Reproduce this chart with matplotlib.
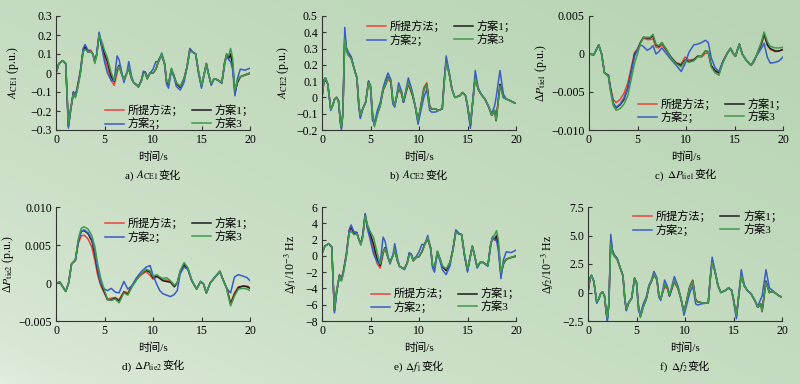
import numpy as np
import matplotlib
matplotlib.use("Agg")
import matplotlib.pyplot as plt
from matplotlib.colors import to_rgb
from matplotlib.offsetbox import TextArea, HPacker, AnchoredOffsetbox

plt.rcParams["font.family"] = ["Liberation Serif", "Noto Sans CJK SC", "DejaVu Sans"]
plt.rcParams["mathtext.fontset"] = "stix"
plt.rcParams["axes.unicode_minus"] = True

# ---- time grids ----
t_a = [0, 0.3, 0.7, 1.0, 1.28, 1.5, 1.8, 2.0, 2.2, 2.5,
       2.8, 3.0, 3.3, 3.6, 3.8, 4.0, 4.2, 4.45, 4.7, 5.0,
       5.3, 5.7, 6.0, 6.3, 6.5, 6.8, 7.0, 7.3, 7.5, 7.8,
       8.0, 8.5, 8.8, 9.0, 9.2, 9.4, 9.7, 10.0, 10.3, 10.6,
       10.9, 11.2, 11.4, 11.6, 11.9, 12.2, 12.4, 12.8, 13.2, 13.5,
       13.8, 14.1, 14.4, 14.7, 15.0, 15.3, 15.5, 15.7, 16.0, 16.3,
       16.6, 17.1, 17.4, 17.6, 17.8, 18.0, 18.2, 18.45, 18.7, 19.0,
       19.5, 20]

t_b = [0, 0.2, 0.35, 0.6, 0.9, 1.1, 1.3, 1.5, 1.7, 1.9,
       2.0, 2.15, 2.35, 2.5, 2.7, 3.0, 3.3, 3.6, 3.8, 3.95,
       4.2, 4.5, 4.8, 5.0, 5.2, 5.4, 5.7, 6.0, 6.3, 6.5,
       6.8, 7.1, 7.3, 7.5, 7.9, 8.2, 8.4, 8.9, 9.3, 9.6,
       9.9, 10.2, 10.5, 10.8, 11.1, 11.3, 11.7, 12.0, 12.4, 12.6,
       12.8, 13.1, 13.4, 13.7, 14.2, 14.5, 14.8, 15.0, 15.3, 15.5,
       15.8, 16.1, 16.4, 16.8, 17.2, 17.5, 17.8, 17.95, 18.35, 18.7,
       19.0, 19.4, 19.7, 20]

t_c = [0, 0.5, 1.0, 1.3, 1.6, 2.0, 2.2, 2.5, 2.8, 3.2,
       3.6, 4.0, 4.4, 4.7, 5.0, 5.3, 5.6, 6.0, 6.3, 6.6,
       6.9, 7.2, 7.5, 8.0, 8.5, 9.0, 9.5, 9.9, 10.3, 10.8,
       11.2, 11.6, 12.0, 12.3, 12.6, 13.0, 13.4, 13.8, 14.3, 14.6,
       14.9, 15.1, 15.5, 15.8, 16.2, 16.7, 17.0, 17.4, 17.8, 18.05,
       18.4, 18.7, 19.2, 19.6, 20]

t_d = [0, 0.4, 0.7, 1.0, 1.3, 1.6, 2.0, 2.3, 2.6, 2.9,
       3.3, 3.7, 4.0, 4.3, 4.6, 5.0, 5.3, 5.7, 6.1, 6.5,
       7.0, 7.4, 7.8, 8.3, 8.8, 9.3, 9.7, 10.0, 10.4, 10.7,
       11.0, 11.4, 11.8, 12.2, 12.5, 12.8, 13.2, 13.6, 14.0, 14.5,
       14.9, 15.2, 15.5, 15.9, 16.4, 16.9, 17.2, 17.6, 18.0, 18.4,
       18.8, 19.3, 19.7, 20]

# ---- a) ACE1 ----
ace1_pm = [0.0, 0.05, 0.065, 0.05, -0.28, -0.19, -0.1, -0.12, -0.07, 0.01,
           0.12, 0.13, 0.12, 0.12, 0.1, 0.06, 0.1, 0.2, 0.14, 0.08,
           0.03, -0.04, -0.065, 0.0, 0.04, -0.01, -0.035, 0.0, 0.025, -0.03,
           -0.05, -0.07, -0.04, 0.0, 0.005, -0.03, 0.0, 0.0, 0.02, 0.065,
           0.09, 0.045, -0.045, -0.06, 0.02, -0.02, -0.055, -0.075, -0.03, 0.03,
           0.125, 0.11, 0.1, 0.0, -0.07, 0.0, 0.045, 0.0, -0.06, -0.03,
           -0.035, -0.05, 0.06, 0.095, 0.075, 0.09, 0.04, -0.1, -0.05, -0.02,
           -0.01, -0.005]
ace1_s1 = [0.0, 0.05, 0.065, 0.05, -0.28, -0.2, -0.1, -0.125, -0.08, 0.0,
           0.12, 0.14, 0.11, 0.11, 0.1, 0.06, 0.1, 0.205, 0.15, 0.1,
           0.06, -0.02, -0.045, 0.02, 0.04, -0.01, -0.035, 0.0, 0.025, -0.03,
           -0.05, -0.07, -0.04, 0.0, 0.005, -0.03, 0.0, 0.0, 0.02, 0.07,
           0.1, 0.05, -0.045, -0.06, 0.02, -0.02, -0.055, -0.075, -0.03, 0.03,
           0.12, 0.11, 0.1, 0.0, -0.07, 0.0, 0.05, 0.0, -0.06, -0.03,
           -0.035, -0.05, 0.06, 0.1, 0.08, 0.1, 0.05, -0.105, -0.05, -0.02,
           -0.01, 0.0]
ace1_s2 = [0.0, 0.05, 0.065, 0.05, -0.29, -0.2, -0.1, -0.12, -0.08, 0.0,
           0.13, 0.15, 0.12, 0.11, 0.1, 0.06, 0.1, 0.215, 0.14, 0.06,
           0.0, -0.04, -0.04, 0.09, 0.07, 0.0, -0.05, 0.0, 0.06, -0.02,
           -0.05, -0.075, -0.04, 0.01, 0.005, -0.02, 0.0, 0.02, 0.06, 0.06,
           0.105, 0.04, -0.06, -0.08, 0.015, -0.03, -0.07, -0.09, -0.05, 0.03,
           0.13, 0.11, 0.1, 0.0, -0.08, 0.0, 0.05, 0.0, -0.065, -0.03,
           -0.035, -0.055, 0.05, 0.09, 0.07, 0.06, 0.02, -0.12, -0.03, 0.02,
           0.015, 0.025]
ace1_s3 = [0.0, 0.05, 0.065, 0.05, -0.27, -0.19, -0.11, -0.13, -0.09, -0.01,
           0.11, 0.125, 0.11, 0.11, 0.1, 0.05, 0.09, 0.2, 0.17, 0.12,
           0.08, 0.0, -0.04, 0.02, 0.035, -0.01, -0.035, 0.0, 0.03, -0.03,
           -0.05, -0.07, -0.045, -0.005, 0.0, -0.03, 0.0, 0.0, 0.02, 0.065,
           0.1, 0.05, -0.04, -0.055, 0.025, -0.02, -0.05, -0.07, -0.03, 0.025,
           0.115, 0.11, 0.1, 0.01, -0.065, 0.0, 0.05, 0.0, -0.055, -0.03,
           -0.035, -0.05, 0.06, 0.1, 0.09, 0.13, 0.08, -0.09, -0.04, -0.02,
           -0.01, 0.0]

# ---- b) ACE2 ----
ace2_pm = [0.0, 0.1, 0.12, 0.08, -0.07, -0.05, -0.01, 0.0, -0.02, -0.15,
           -0.18, -0.1, 0.37, 0.29, 0.26, 0.24, 0.18, 0.12, -0.05, -0.11,
           -0.07, -0.03, 0.09, 0.07, -0.1, -0.17, -0.1, -0.05, 0.04, 0.07,
           0.115, 0.09, -0.02, -0.04, 0.05, 0.02, -0.03, 0.08, 0.02, -0.05,
           -0.14, -0.05, 0.06, 0.09, -0.05, -0.07, -0.07, -0.08, -0.07, 0.1,
           0.22, 0.15, 0.05, 0.0, 0.01, 0.03, 0.01, -0.05, -0.17, -0.05,
           0.12, 0.05, 0.02, -0.01, -0.06, -0.11, -0.08, -0.145, 0.08, 0.0,
           -0.01, -0.02, -0.03, -0.035]
ace2_s1 = [0.0, 0.1, 0.12, 0.08, -0.07, -0.05, -0.01, 0.0, -0.02, -0.15,
           -0.185, -0.1, 0.39, 0.3, 0.27, 0.25, 0.18, 0.12, -0.05, -0.12,
           -0.07, -0.03, 0.1, 0.07, -0.1, -0.17, -0.1, -0.05, 0.05, 0.07,
           0.125, 0.1, -0.02, -0.05, 0.06, 0.03, -0.03, 0.09, 0.02, -0.05,
           -0.15, -0.05, 0.05, 0.08, -0.06, -0.07, -0.07, -0.08, -0.07, 0.1,
           0.23, 0.15, 0.05, 0.0, 0.01, 0.03, 0.01, -0.05, -0.17, -0.05,
           0.13, 0.05, 0.02, -0.01, -0.06, -0.11, -0.08, -0.14, 0.08, 0.0,
           -0.01, -0.02, -0.03, -0.035]
ace2_s2 = [0.0, 0.11, 0.12, 0.08, -0.08, -0.05, -0.01, 0.0, -0.02, -0.16,
           -0.2, -0.1, 0.43, 0.31, 0.28, 0.25, 0.18, 0.12, -0.06, -0.13,
           -0.07, -0.03, 0.1, 0.06, -0.14, -0.16, -0.08, -0.03, 0.06, 0.1,
           0.15, 0.11, -0.04, -0.06, 0.09, 0.04, -0.03, 0.12, 0.04, -0.05,
           -0.165, -0.08, 0.0, 0.05, -0.08, -0.09, -0.09, -0.08, -0.07, 0.1,
           0.255, 0.16, 0.05, 0.0, 0.01, 0.03, 0.01, -0.06, -0.19, -0.05,
           0.165, 0.06, 0.02, -0.01, -0.06, -0.1, -0.05, 0.0, 0.165, 0.02,
           -0.01, -0.02, -0.03, -0.035]
ace2_s3 = [0.0, 0.1, 0.12, 0.08, -0.07, -0.05, -0.01, 0.0, -0.02, -0.15,
           -0.18, -0.1, 0.36, 0.29, 0.26, 0.24, 0.18, 0.12, -0.04, -0.11,
           -0.07, -0.03, 0.09, 0.07, -0.09, -0.18, -0.11, -0.05, 0.05, 0.07,
           0.12, 0.1, -0.02, -0.05, 0.06, 0.03, -0.02, 0.09, 0.03, -0.05,
           -0.14, -0.05, 0.05, 0.08, -0.06, -0.07, -0.07, -0.08, -0.07, 0.09,
           0.21, 0.15, 0.05, 0.0, 0.01, 0.03, 0.01, -0.05, -0.16, -0.05,
           0.12, 0.05, 0.02, -0.01, -0.06, -0.11, -0.08, -0.14, 0.07, 0.0,
           -0.01, -0.02, -0.03, -0.035]

# ---- c) dPtie1 ----
ptie1_pm = [0.0, -0.0001, 0.0012, 0.0, -0.0025, -0.0028, -0.0042, -0.006, -0.0064, -0.006,
            -0.0052, -0.0038, -0.0015, 0.0002, 0.0007, 0.0015, 0.0021, 0.0019, 0.0019, 0.002,
            0.0009, 0.0008, 0.0012, 0.0004, -0.0005, -0.0012, -0.0013, -0.0004, -0.0008, -0.0007,
            -0.0003, -0.0004, 0.0001, 0.0001, -0.0016, -0.0022, -0.0025, -0.001, 0.0002, 0.0007,
            0.0, -0.0003, 0.0013, 0.0, -0.0008, -0.0015, -0.001, 0.0002, 0.0013, 0.0025,
            0.0011, 0.0006, 0.0003, 0.0004, 0.0006]
ptie1_s1 = [0.0, -0.0001, 0.0012, 0.0, -0.0025, -0.0028, -0.0045, -0.0065, -0.0071, -0.0067,
            -0.006, -0.0045, -0.002, 0.0, 0.0005, 0.0015, 0.0022, 0.0021, 0.0021, 0.0024,
            0.0012, 0.001, 0.0015, 0.0005, -0.0005, -0.0012, -0.0015, -0.0008, -0.001, -0.0008,
            -0.0003, -0.0003, 0.0004, 0.0003, -0.0015, -0.0022, -0.0025, -0.001, 0.0002, 0.0007,
            0.0, -0.0003, 0.0013, 0.0, -0.0008, -0.0015, -0.001, 0.0002, 0.0015, 0.0027,
            0.0012, 0.0007, 0.0004, 0.0004, 0.0006]
ptie1_s2 = [0.0, -0.0001, 0.0012, 0.0, -0.0025, -0.0028, -0.0045, -0.0065, -0.007, -0.0066,
            -0.0058, -0.0045, -0.002, -0.0003, 0.0006, 0.0012, 0.001, 0.0005, 0.0007, 0.0011,
            0.0, 0.0003, 0.0008, 0.0, -0.0008, -0.0015, -0.0023, -0.0013, 0.0002, 0.0012,
            0.0013, 0.0015, 0.0018, 0.0015, -0.0005, -0.0018, -0.0023, -0.001, 0.0002, 0.0008,
            0.0, -0.0002, 0.0013, 0.0, -0.0008, -0.0015, -0.0008, 0.0, 0.0008, 0.0014,
            -0.0005, -0.0012, -0.0011, -0.0009, -0.0004]
ptie1_s3 = [0.0, -0.0001, 0.0012, 0.0, -0.0025, -0.003, -0.0048, -0.0068, -0.0074, -0.0072,
            -0.0066, -0.0055, -0.003, -0.0012, 0.0, 0.0014, 0.0022, 0.0022, 0.0022, 0.0026,
            0.0013, 0.0011, 0.0015, 0.0006, -0.0006, -0.0013, -0.0017, -0.0009, -0.0011, -0.0009,
            -0.0004, -0.0003, 0.0004, 0.0003, -0.0017, -0.0025, -0.0028, -0.0012, 0.0002, 0.0007,
            0.0, -0.0003, 0.0013, 0.0, -0.0008, -0.0015, -0.001, 0.0003, 0.0017, 0.0029,
            0.0016, 0.001, 0.0008, 0.0008, 0.0009]

# ---- d) dPtie2 ----
ptie2_pm = [0.0, 0.0001, -0.0005, -0.0011, 0.0, 0.0025, 0.003, 0.0052, 0.0062, 0.0063,
            0.0058, 0.0047, 0.003, 0.001, -0.0003, -0.0014, -0.0021, -0.002, -0.0019, -0.0022,
            -0.0011, -0.0013, -0.0004, 0.0005, 0.0011, 0.0015, 0.001, 0.0005, 0.0008, 0.0007,
            0.0004, 0.0004, 0.0002, -0.0003, 0.0, 0.0014, 0.0023, 0.0018, 0.0003, -0.0008,
            0.0002, -0.0001, -0.0013, 0.0, 0.0008, 0.0015, 0.0005, -0.0007, -0.0026, -0.0013,
            -0.0005, -0.0004, -0.0004, -0.0006]
ptie2_s1 = [0.0, 0.0001, -0.0005, -0.0011, 0.0, 0.0025, 0.003, 0.0055, 0.0068, 0.0069,
            0.0065, 0.0055, 0.0038, 0.0015, 0.0, -0.0012, -0.0022, -0.0022, -0.002, -0.0024,
            -0.0012, -0.0015, -0.0005, 0.0005, 0.0012, 0.0017, 0.0014, 0.0007, 0.0009, 0.0006,
            0.0003, 0.0002, 0.0001, -0.0005, 0.0, 0.0015, 0.0024, 0.0018, 0.0003, -0.0008,
            0.0002, -0.0001, -0.0013, 0.0, 0.0008, 0.0015, 0.0005, -0.0007, -0.0028, -0.0015,
            -0.0006, -0.0004, -0.0005, -0.0007]
ptie2_s2 = [0.0, 0.0001, -0.0005, -0.0011, 0.0, 0.0025, 0.003, 0.0055, 0.0068, 0.007,
            0.0066, 0.0058, 0.0042, 0.0018, 0.0, -0.0008, -0.001, -0.0007, -0.0012, -0.0013,
            0.0002, -0.0008, -0.0004, 0.0007, 0.0015, 0.0021, 0.0023, 0.001, -0.0002, -0.001,
            -0.0014, -0.0016, -0.0018, -0.0015, -0.001, 0.0012, 0.0021, 0.0018, 0.0003, -0.0008,
            0.0002, -0.0001, -0.0013, 0.0, 0.0008, 0.0015, 0.0005, -0.0007, -0.0013, 0.0008,
            0.0011, 0.0009, 0.0007, 0.0003]
ptie2_s3 = [0.0, 0.0001, -0.0005, -0.0011, 0.0, 0.0025, 0.0031, 0.0058, 0.0072, 0.0074,
            0.0071, 0.0062, 0.0048, 0.0025, 0.0007, -0.001, -0.0021, -0.0023, -0.0021, -0.0026,
            -0.0013, -0.0016, -0.0006, 0.0004, 0.0012, 0.0018, 0.0016, 0.0009, 0.0011, 0.0008,
            0.0006, 0.0007, 0.0003, -0.0003, 0.0, 0.0016, 0.0027, 0.002, 0.0004, -0.0008,
            0.0002, -0.0001, -0.0013, 0.0, 0.0008, 0.0016, 0.0005, -0.0008, -0.003, -0.0017,
            -0.0008, -0.0007, -0.0008, -0.001]

# ---- e) df1 (10^-3 Hz) ----
f1_pm = [0.3, 1.2, 1.5, 1.1, -6.7, -4.4, -2.3, -2.9, -1.8, 0.2,
         3.0, 3.3, 3.0, 2.9, 2.0, 1.5, 2.4, 4.9, 3.3, 2.2,
         0.8, -1.0, -1.5, 0.2, 1.0, -0.2, -0.8, 0.0, 0.7, -0.7,
         -1.3, -1.6, -0.8, 0.3, 0.2, -0.6, -0.2, -0.1, 0.5, 1.4,
         2.0, 0.9, -1.2, -1.5, 0.5, -0.5, -1.3, -1.8, -0.8, 0.8,
         3.1, 2.7, 2.6, 0.0, -1.8, 0.0, 1.1, 0.2, -1.4, -0.8,
         -0.8, -1.2, 1.5, 2.2, 1.9, 2.3, 0.9, -2.2, -1.0, -0.4,
         -0.2, -0.1]
f1_s1 = [0.3, 1.2, 1.5, 1.1, -6.8, -4.5, -2.4, -3.0, -2.0, 0.0,
         3.0, 3.6, 2.7, 2.8, 2.0, 1.5, 2.5, 5.1, 3.5, 2.6,
         1.5, -0.5, -1.2, 0.5, 1.0, -0.2, -0.8, 0.0, 0.7, -0.7,
         -1.3, -1.6, -0.8, 0.3, 0.2, -0.6, -0.2, -0.1, 0.5, 1.5,
         2.2, 1.0, -1.2, -1.5, 0.5, -0.5, -1.3, -1.8, -0.8, 0.8,
         3.0, 2.7, 2.6, 0.0, -1.8, 0.0, 1.2, 0.2, -1.4, -0.8,
         -0.8, -1.2, 1.5, 2.3, 2.0, 2.5, 1.0, -2.3, -1.0, -0.4,
         -0.2, 0.0]
f1_s2 = [0.3, 1.2, 1.5, 1.1, -7.0, -4.6, -2.4, -3.0, -2.0, 0.0,
         3.2, 3.8, 2.9, 2.8, 2.0, 1.5, 2.5, 5.2, 3.3, 1.8,
         0.3, -0.8, -0.9, 2.3, 1.8, 0.0, -1.0, 0.0, 1.5, -0.4,
         -1.3, -1.7, -0.8, 0.4, 0.2, -0.4, -0.1, 0.5, 1.4, 1.4,
         2.5, 0.8, -1.5, -2.0, 0.4, -0.8, -1.7, -2.3, -1.2, 0.8,
         3.2, 2.8, 2.6, 0.0, -2.0, 0.0, 1.2, 0.2, -1.5, -0.8,
         -0.8, -1.3, 1.3, 2.4, 2.0, 1.8, 0.5, -2.8, -0.5, 0.5,
         0.4, 0.7]
f1_s3 = [0.3, 1.2, 1.5, 1.1, -6.6, -4.3, -2.5, -3.1, -2.2, -0.2,
         2.8, 3.0, 2.6, 2.7, 2.0, 1.3, 2.2, 4.9, 3.8, 2.9,
         2.3, 0.3, -1.0, 0.5, 0.9, -0.2, -0.8, 0.0, 0.8, -0.7,
         -1.3, -1.6, -0.9, 0.1, 0.1, -0.6, -0.2, -0.1, 0.5, 1.4,
         2.2, 1.0, -1.1, -1.4, 0.6, -0.5, -1.2, -1.6, -0.8, 0.6,
         2.9, 2.7, 2.6, 0.2, -1.6, 0.0, 1.2, 0.2, -1.3, -0.8,
         -0.8, -1.2, 1.5, 2.2, 2.6, 3.1, 1.8, -2.0, -1.0, -0.4,
         -0.2, 0.0]

# ---- f) df2 (10^-3 Hz) ----
f2_pm = [0.0, 1.2, 1.5, 1.0, -0.8, -0.6, -0.1, 0.05, -0.3, -1.8,
         -2.2, -1.0, 4.5, 3.6, 3.2, 2.9, 2.2, 1.5, -0.6, -1.4,
         -0.9, -0.5, 1.2, 0.9, -1.2, -2.1, -1.2, -0.6, 0.5, 0.9,
         1.5, 1.1, -0.2, -0.5, 0.5, 0.3, -0.3, 0.9, 0.3, -0.6,
         -1.7, -0.6, 0.6, 1.1, -0.6, -0.8, -0.9, -0.95, -0.9, 1.2,
         2.7, 1.8, 0.6, 0.0, 0.2, 0.4, 0.2, -0.6, -2.0, -0.6,
         1.5, 0.6, 0.2, -0.1, -0.7, -1.3, -1.0, -1.7, 0.9, 0.0,
         0.1, -0.1, -0.3, -0.4]
f2_s1 = [0.0, 1.2, 1.5, 1.0, -0.85, -0.6, -0.1, 0.05, -0.3, -1.9,
         -2.3, -1.0, 4.7, 3.7, 3.3, 3.0, 2.2, 1.5, -0.6, -1.5,
         -0.9, -0.5, 1.25, 0.9, -1.2, -2.1, -1.2, -0.6, 0.6, 0.9,
         1.6, 1.2, -0.2, -0.6, 0.7, 0.4, -0.3, 1.1, 0.3, -0.6,
         -1.8, -0.6, 0.5, 1.0, -0.7, -0.8, -0.9, -0.95, -0.9, 1.2,
         2.8, 1.8, 0.6, 0.0, 0.2, 0.4, 0.2, -0.6, -2.1, -0.6,
         1.6, 0.6, 0.2, -0.1, -0.7, -1.3, -1.0, -1.6, 1.0, 0.0,
         0.1, -0.1, -0.3, -0.4]
f2_s2 = [0.0, 1.3, 1.5, 1.0, -0.95, -0.6, -0.1, 0.05, -0.3, -2.0,
         -2.5, -1.0, 5.1, 3.8, 3.3, 3.0, 2.2, 1.5, -0.7, -1.6,
         -0.9, -0.5, 1.3, 0.8, -1.6, -1.9, -1.0, -0.4, 0.7, 1.0,
         1.85, 1.3, -0.4, -0.7, 1.1, 0.5, -0.3, 1.4, 0.5, -0.6,
         -2.0, -1.0, 0.0, 0.6, -1.0, -1.1, -1.0, -0.95, -0.9, 1.2,
         3.1, 1.9, 0.6, 0.0, 0.2, 0.4, 0.2, -0.7, -2.3, -0.6,
         2.0, 0.7, 0.2, -0.1, -0.7, -1.2, -0.6, -0.3, 2.0, 0.4,
         0.2, -0.1, -0.3, -0.4]
f2_s3 = [0.0, 1.2, 1.5, 1.0, -0.8, -0.6, -0.1, 0.05, -0.3, -1.8,
         -2.2, -1.0, 4.3, 3.5, 3.2, 2.9, 2.2, 1.5, -0.5, -1.4,
         -0.9, -0.5, 1.2, 0.9, -1.1, -2.2, -1.3, -0.6, 0.6, 0.9,
         1.6, 1.2, -0.2, -0.6, 0.7, 0.4, -0.2, 1.1, 0.3, -0.6,
         -1.7, -0.6, 0.5, 1.0, -0.7, -0.8, -0.9, -0.95, -0.9, 1.1,
         2.6, 1.8, 0.6, 0.0, 0.2, 0.4, 0.2, -0.6, -2.0, -0.6,
         1.5, 0.6, 0.2, -0.1, -0.7, -1.3, -1.0, -1.6, 0.9, 0.0,
         0.1, -0.1, -0.3, -0.4]

# ---- ticks / labels ----
x_ticks = [0, 5, 10, 15, 20]
a_yticks = [-0.3, -0.2, -0.1, 0, 0.1, 0.2, 0.3]
a_ylabels = ["\u22120.3", "\u22120.2", "\u22120.1", "0", "0.1", "0.2", "0.3"]
b_yticks = [-0.2, -0.1, 0, 0.1, 0.2, 0.3, 0.4, 0.5]
b_ylabels = ["\u22120.2", "\u22120.1", "0", "0.1", "0.2", "0.3", "0.4", "0.5"]
c_yticks = [-0.010, -0.005, 0, 0.005]
c_ylabels = ["\u22120.010", "\u22120.005", "0", "0.005"]
d_yticks = [-0.005, 0, 0.005, 0.010]
d_ylabels = ["\u22120.005", "0", "0.005", "0.010"]
e_yticks = [-8, -6, -4, -2, 0, 2, 4, 6]
e_ylabels = ["\u22128", "\u22126", "\u22124", "\u22122", "0", "2", "4", "6"]
f_yticks = [-2.5, 0, 2.5, 5.0, 7.5]
f_ylabels = ["\u22122.5", "0", "2.5", "5.0", "7.5"]

series_names = ["所提方法；", "方案1；", "方案2；", "方案3"]
colors = ["#e8443c", "#1c1c1c", "#3a5cc6", "#3f9a4b"]

fig = plt.figure(figsize=(8, 3.84), dpi=100)

# gradient background
bg = fig.add_axes([0, 0, 1, 1], zorder=-10)
gx, gy = np.meshgrid(np.linspace(0, 1, 200), np.linspace(0, 1, 100))
s = np.sqrt(np.clip((gx + gy) / 2.0, 0, 1))
light = np.array(to_rgb("#e4eee0"))
dark = np.array(to_rgb("#b8d4b4"))
img = light[None, None, :] * (1 - s[..., None]) + dark[None, None, :] * s[..., None]
bg.imshow(img, origin="lower", extent=[0, 1, 0, 1], aspect="auto")
bg.axis("off")

FS = 8


def draw_panel(rect, t, ys, yticks, ylabels, ylab, ylab_x, title_parts, leg_loc, leg_anchor):
    ax = fig.add_axes(rect)
    ax.set_facecolor("none")
    lines = []
    for y, c, name in zip(ys, colors, series_names):
        ln, = ax.plot(t, y, color=c, lw=1.1, label=name)
        lines.append(ln)
    ax.set_xlim(0, 20)
    ax.set_ylim(yticks[0], yticks[-1])
    ax.set_xticks(x_ticks)
    ax.set_xticklabels([str(v) for v in x_ticks])
    ax.set_yticks(yticks)
    ax.set_yticklabels(ylabels)
    for side in ["top", "right"]:
        ax.spines[side].set_visible(False)
    for side in ["left", "bottom"]:
        ax.spines[side].set_color("#333333")
        ax.spines[side].set_linewidth(0.8)
    ax.tick_params(direction="in", length=3, width=0.8, color="#333333",
                   labelsize=FS + 0.5, pad=3)
    ax.text(0.5, -0.235, "时间/s", transform=ax.transAxes, ha="center",
            va="center", fontsize=FS)
    # caption: mix of plain text / mathtext / Chinese
    boxes = [TextArea(p, textprops=dict(fontsize=FS)) for p in title_parts]
    pack = HPacker(children=boxes, align="baseline", pad=0, sep=0)
    anchored = AnchoredOffsetbox(loc="center", child=pack, pad=0, borderpad=0,
                                 frameon=False, bbox_to_anchor=(0.5, -0.40),
                                 bbox_transform=ax.transAxes)
    ax.add_artist(anchored)
    ax.text(ylab_x, 0.5, ylab, transform=ax.transAxes, ha="center",
            va="center", rotation=90, fontsize=FS + 0.5)
    order = [lines[0], lines[2], lines[1], lines[3]]
    ax.legend(order, [l.get_label() for l in order], ncol=2, loc=leg_loc,
              bbox_to_anchor=leg_anchor, frameon=False, fontsize=FS,
              handlelength=1.7, handletextpad=0.35, columnspacing=0.8,
              labelspacing=0.15, borderaxespad=0.0, borderpad=0.0)
    return ax


w = 194 / 800
h = 114 / 384
top_b = 1 - 130 / 384
bot_b = 1 - 321 / 384

draw_panel([56 / 800, top_b, w, h], t_a, [ace1_pm, ace1_s1, ace1_s2, ace1_s3],
           a_yticks, a_ylabels, r"$A_{\mathrm{CE1}}$ (p.u.)", -0.22,
           ["a) ", r"$A_{\mathrm{CE1}}$", "变化"], "lower right", (1.02, 0.005))
draw_panel([322 / 800, top_b, w, h], t_b, [ace2_pm, ace2_s1, ace2_s2, ace2_s3],
           b_yticks, b_ylabels, r"$A_{\mathrm{CE2}}$ (p.u.)", -0.20,
           ["b) ", r"$A_{\mathrm{CE2}}$", "变化"], "upper right", (1.0, 0.96))
draw_panel([589 / 800, top_b, w, h], t_c, [ptie1_pm, ptie1_s1, ptie1_s2, ptie1_s3],
           c_yticks, c_ylabels, r"Δ$P_{\mathrm{tie1}}$ (p.u.)", -0.245,
           ["c) ", r"$\Delta P_{\mathrm{tie1}}$", "变化"], "lower right", (1.02, 0.06))
draw_panel([56 / 800, bot_b, w, h], t_d, [ptie2_pm, ptie2_s1, ptie2_s2, ptie2_s3],
           d_yticks, d_ylabels, r"Δ$P_{\mathrm{tie2}}$ (p.u.)", -0.25,
           ["d) ", r"$\Delta P_{\mathrm{tie2}}$", "变化"], "upper right", (1.02, 0.91))
draw_panel([322 / 800, bot_b, w, h], t_a, [f1_pm, f1_s1, f1_s2, f1_s3],
           e_yticks, e_ylabels, r"Δ$f_1$/10$^{-3}$ Hz", -0.16,
           ["e) ", r"$\Delta f_1$", "变化"], "lower right", (1.02, 0.07))
draw_panel([588 / 800, bot_b, w, h], t_b, [f2_pm, f2_s1, f2_s2, f2_s3],
           f_yticks, f_ylabels, r"Δ$f_2$/10$^{-3}$ Hz", -0.205,
           ["f) ", r"$\Delta f_2$", "变化"], "upper right", (1.0, 0.97))

fig.savefig("out.png", dpi=100)
